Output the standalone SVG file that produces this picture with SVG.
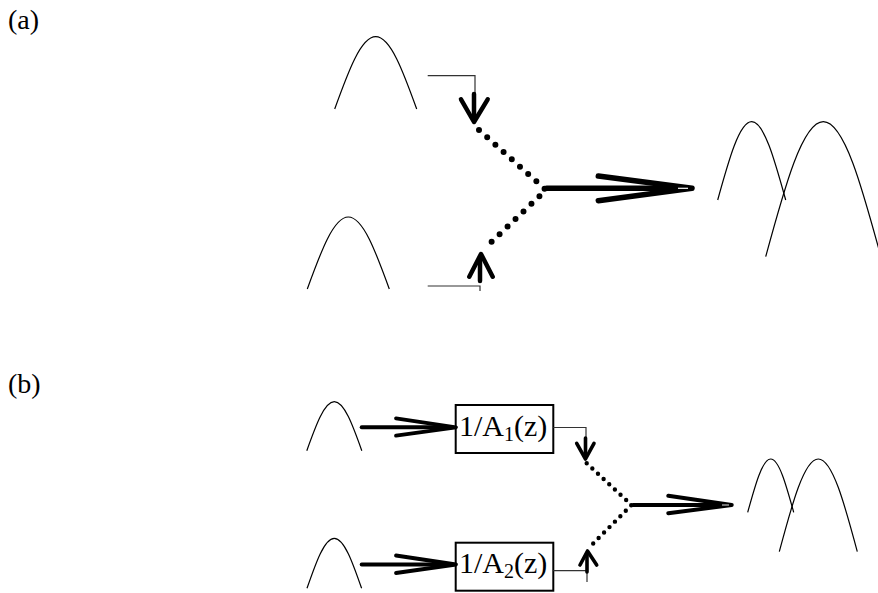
<svg xmlns="http://www.w3.org/2000/svg" width="878" height="593" viewBox="0 0 878 593">
<style>
.bell{fill:none;stroke:#000;stroke-width:1.2}
.thin{fill:none;stroke:#333;stroke-width:1.2}
.head{fill:none;stroke:#000;stroke-linecap:round;stroke-linejoin:round}
.dots{fill:none;stroke:#000;stroke-linecap:round;stroke-linejoin:round}
.box{fill:#fff;stroke:#000;stroke-width:2}
.lbl{font-family:"Liberation Serif","Times New Roman",serif;fill:#000}
</style>
<rect width="878" height="593" fill="#fff"/>
<g id="label-a"><text class="lbl" x="8" y="29" font-size="28">(a)</text></g>
<g id="label-b"><text class="lbl" x="8" y="393" font-size="28">(b)</text></g>

<g id="a-input1"><path class="bell" d="M334.7,109 C348.1,71.9 360.9,36.7 375.7,36.7 C390.5,36.7 403.3,71.9 416.7,109"/></g>
<g id="a-input2"><path class="bell" d="M307.3,289 C320.7,252.1 333.5,217 348.3,217 C363.1,217 375.9,252.1 389.3,289"/></g>
<g id="a-output"><path class="bell" d="M717.7,200 C728.8,159.9 739.4,121.7 751.7,121.7 C764,121.7 774.6,159.9 785.7,200"/><path class="bell" d="M765.7,256.7 C784.5,187.5 802.5,121.7 823.3,121.7 C844.2,121.7 862.1,187.5 880.9,256.7"/></g>

<g id="b-input1"><path class="bell" d="M306.8,450.7 C315.8,425.6 324.4,401.7 334.3,401.7 C344.3,401.7 352.8,425.6 361.8,450.7"/></g>
<g id="b-input2"><path class="bell" d="M307,588.3 C315.9,562.7 324.4,538.3 334.3,538.3 C344.2,538.3 352.7,562.7 361.6,588.3"/></g>
<g id="b-output"><path class="bell" d="M747.7,512.3 C755.2,485 762.4,459 770.7,459 C779,459 786.2,485 793.7,512.3"/><path class="bell" d="M779.3,551.7 C792,504.2 804.2,459 818.3,459 C832.4,459 844.6,504.2 857.3,551.7"/></g>

<g id="b-filter1"><rect class="box" x="455.7" y="405" width="97.6" height="48"/><text class="lbl" x="459" y="436" font-size="30">1/A<tspan font-size="20" dy="5">1</tspan><tspan dy="-5">(z)</tspan></text></g>
<g id="b-filter2"><rect class="box" x="455.7" y="542.7" width="97.6" height="48"/><text class="lbl" x="459" y="573" font-size="30">1/A<tspan font-size="20" dy="5">2</tspan><tspan dy="-5">(z)</tspan></text></g>

<g id="connectors">
  <!-- (a) top input -->
  <polyline class="thin" points="427.7,75.7 475,75.7 475,96"/>
  <path class="head" stroke-width="4.5" d="M474,94 L474,119"/>
  <path class="head" stroke-width="4.5" d="M461,99.3 L474,122 L487.7,99.3"/>
  <!-- (a) bottom input -->
  <polyline class="thin" points="427.7,286 480,286 480,291"/>
  <path class="head" stroke-width="4.5" d="M480,281 L480,257"/>
  <path class="head" stroke-width="4.5" d="M469.3,276.7 L481,254 L492.7,276.7"/>
  <!-- (a) dotted merge -->
  <polyline class="dots" stroke-width="6" stroke-dasharray="0 11" points="479,130 546,190 484,249"/>
  <!-- (a) output arrow -->
  <path class="head" stroke-width="5.5" d="M546.7,188.3 L684,188.3"/>
  <path class="head" stroke-width="5.5" d="M598.3,176 L692,188.3 L598.3,200.7"/>
  <path d="M678,188.3 L688,188.3" stroke="#fff" stroke-width="1.2"/>

  <!-- (b) input arrows -->
  <path class="head" stroke-width="4" d="M361.7,427.3 L452,427.3"/>
  <path class="head" stroke-width="3.8" d="M396,418.3 L456,427.3 L396,435.7"/>
  <path class="head" stroke-width="4" d="M361.7,564.5 L452,564.5"/>
  <path class="head" stroke-width="3.8" d="M396,555.5 L456,564.5 L396,573"/>
  <!-- (b) filter outputs -->
  <polyline class="thin" points="553.3,427.5 586,427.5 586,440"/>
  <path class="head" stroke-width="3.6" d="M585.5,438 L585.5,457"/>
  <path class="head" stroke-width="3.6" d="M576.7,443.3 L585.5,459 L594,443.3"/>
  <polyline class="thin" points="553.3,570.7 587,570.7 587,582"/>
  <path class="head" stroke-width="3.6" d="M587,572 L587,553"/>
  <path class="head" stroke-width="3.6" d="M580,565 L587.5,551 L596.7,565"/>
  <!-- (b) dotted merge -->
  <polyline class="dots" stroke-width="4.4" stroke-dasharray="0 7.7" points="586.7,463.3 631.5,505 591.7,545"/>
  <!-- (b) output arrow -->
  <path class="head" stroke-width="4" d="M633.3,505 L725,505"/>
  <path class="head" stroke-width="4" d="M668.3,495.7 L731.7,505 L668.3,513.3"/>
  <path d="M722,505 L729,505" stroke="#fff" stroke-width="0.9"/>
</g>
</svg>
